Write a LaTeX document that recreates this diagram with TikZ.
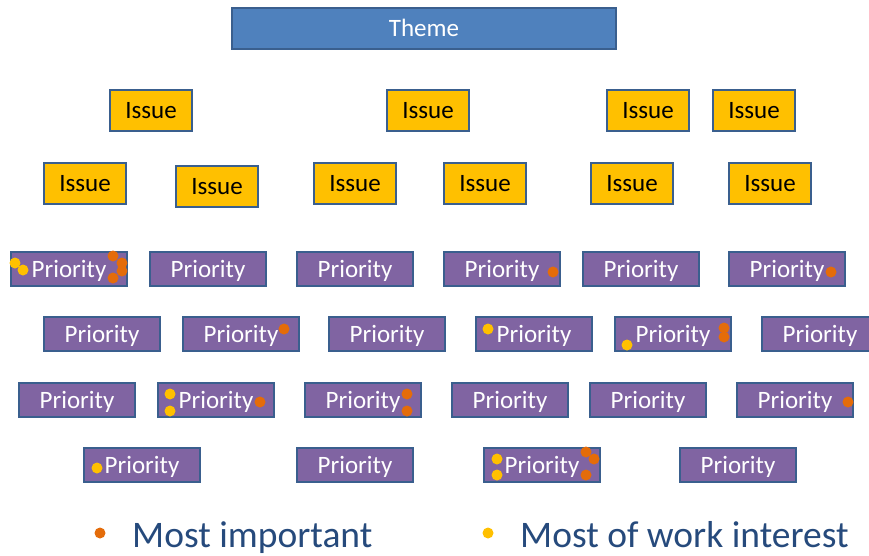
\documentclass[tikz,border=0pt]{standalone}
\usepackage{fontspec}
\setmainfont{Carlito}
\definecolor{themefill}{HTML}{4F81BD}
\definecolor{boxline}{HTML}{3A5F8E}
\definecolor{issuefill}{HTML}{FFC000}
\definecolor{prifill}{HTML}{8064A2}
\definecolor{dotorange}{HTML}{E46C0A}
\definecolor{dotyellow}{HTML}{FFC000}
\definecolor{legendtext}{HTML}{264A7C}
\tikzset{
  basebox/.style={draw=boxline, line width=2pt, inner sep=0pt, anchor=north west, text height=17.5pt, text depth=1pt, font=\fontsize{25}{27}\selectfont},
  themebox/.style={basebox, fill=themefill, text=white, minimum width=384pt, minimum height=41pt},
  issuebox/.style={basebox, fill=issuefill, text=black, minimum width=82pt, minimum height=41pt},
  pribox/.style={basebox, fill=prifill, text=white, minimum width=116pt, minimum height=34pt},
  odot/.style={circle, fill=dotorange, inner sep=0pt, minimum size=11pt},
  ydot/.style={circle, fill=dotyellow, inner sep=0pt, minimum size=11pt},
  legend/.style={anchor=base west, text=legendtext, inner sep=0pt, font=\fontsize{37.5}{40}\selectfont}
}
\begin{document}
\begin{tikzpicture}[x=1pt, y=-1pt]
\useasboundingbox (0,0) rectangle (869,555);
% theme
\node[themebox] (theme) at (231,7) {Theme};
% issues row 1
\node[issuebox] (i1) at (109,89) {Issue};
\node[issuebox] (i2) at (386,89) {Issue};
\node[issuebox] (i3) at (606,89) {Issue};
\node[issuebox] (i4) at (712,89) {Issue};
% issues row 2
\node[issuebox] (i5) at (43,162) {Issue};
\node[issuebox] (i6) at (175,165) {Issue};
\node[issuebox] (i7) at (313,162) {Issue};
\node[issuebox] (i8) at (443,162) {Issue};
\node[issuebox] (i9) at (590,162) {Issue};
\node[issuebox] (i10) at (728,162) {Issue};
% priorities row 1
\node[pribox] (p11) at (10,251) {Priority};
\node[pribox] (p12) at (149,251) {Priority};
\node[pribox] (p13) at (296,251) {Priority};
\node[pribox] (p14) at (443,251) {Priority};
\node[pribox] (p15) at (582,251) {Priority};
\node[pribox] (p16) at (728,251) {Priority};
% row 2
\node[pribox] (p21) at (43,316) {Priority};
\node[pribox] (p22) at (182,316) {Priority};
\node[pribox] (p23) at (328,316) {Priority};
\node[pribox] (p24) at (475,316) {Priority};
\node[pribox] (p25) at (614,316) {Priority};
\node[pribox] (p26) at (761,316) {Priority};
% row 3
\node[pribox] (p31) at (18,382) {Priority};
\node[pribox] (p32) at (157,382) {Priority};
\node[pribox] (p33) at (304,382) {Priority};
\node[pribox] (p34) at (451,382) {Priority};
\node[pribox] (p35) at (589,382) {Priority};
\node[pribox] (p36) at (736,382) {Priority};
% row 4
\node[pribox] (p41) at (83,447) {Priority};
\node[pribox] (p42) at (296,447) {Priority};
\node[pribox] (p43) at (483,447) {Priority};
\node[pribox] (p44) at (679,447) {Priority};
% dots
\node[ydot] (d1) at (15,263) {};
\node[ydot] (d2) at (23,270) {};
\node[odot] (d3) at (113,256) {};
\node[odot] (d4) at (122,263) {};
\node[odot] (d5) at (122,271) {};
\node[odot] (d6) at (113,278) {};
\node[odot] (d7) at (553,272) {};
\node[odot] (d8) at (831,272) {};
\node[odot] (d9) at (284,329) {};
\node[ydot] (d10) at (488,329) {};
\node[ydot] (d11) at (627,345) {};
\node[odot] (d12) at (724,328) {};
\node[odot] (d13) at (724,337) {};
\node[ydot] (d14) at (170,394) {};
\node[ydot] (d15) at (170,411) {};
\node[odot] (d16) at (260,402) {};
\node[odot] (d17) at (407,394) {};
\node[odot] (d18) at (407,411) {};
\node[odot] (d19) at (848,402) {};
\node[ydot] (d20) at (97,468) {};
\node[ydot] (d21) at (497,459) {};
\node[ydot] (d22) at (497,475) {};
\node[odot] (d23) at (586,452) {};
\node[odot] (d24) at (594,459) {};
\node[odot] (d25) at (586,475) {};
% legend
\node[odot] (lb1) at (100,533) {};
\node[legend] (l1) at (132,547) {Most important};
\node[ydot] (lb2) at (488,533) {};
\node[legend] (l2) at (520,547) {Most of work interest};
\end{tikzpicture}
\end{document}
